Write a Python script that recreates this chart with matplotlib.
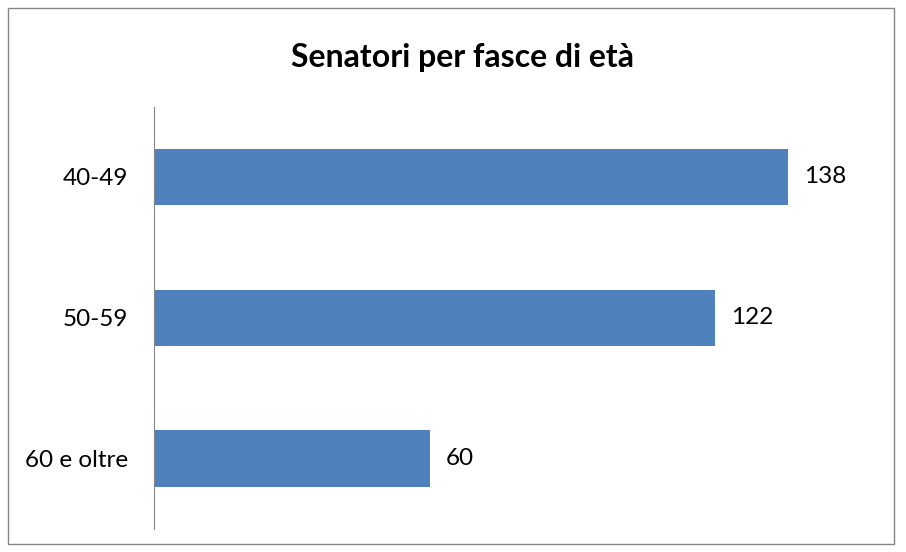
import matplotlib.pyplot as plt
from matplotlib.patches import Rectangle

plt.rcParams['font.family'] = ['Lato', 'DejaVu Sans']

# Data
categories = ['40-49', '50-59', '60 e oltre']
senatori = [138, 122, 60]

fig = plt.figure(figsize=(9.06, 5.52), dpi=100)

# outer chart border
fig.patches.append(Rectangle((7.5 / 906, 8 / 552), 886 / 906, 536 / 552,
                             transform=fig.transFigure, fill=False,
                             edgecolor='#868686', linewidth=1))

ax = fig.add_axes([153.5 / 906, 23 / 552, 736 / 906, 422.5 / 552])

ypos = list(range(len(categories)))
ax.barh(ypos, senatori, height=0.4, color='#4F81BD')
ax.set_ylim(len(categories) - 0.5, -0.5)
ax.set_xlim(0, 160)

for y, v in zip(ypos, senatori):
    ax.text(v + 3.5, y, str(v), va='center', ha='left', fontsize=17.5)

ax.set_yticks(ypos)
ax.set_yticklabels(categories, fontsize=17.5)
ax.tick_params(axis='y', length=0, pad=18.5)
ax.set_xticks([])

for s in ['top', 'right', 'bottom']:
    ax.spines[s].set_visible(False)
ax.spines['left'].set_color('#868686')

fig.text(463 / 906, 1 - 57 / 552, 'Senatori per fasce di età', ha='center',
         va='center', fontsize=23, fontweight='bold')

plt.savefig('out.png', dpi=100)
